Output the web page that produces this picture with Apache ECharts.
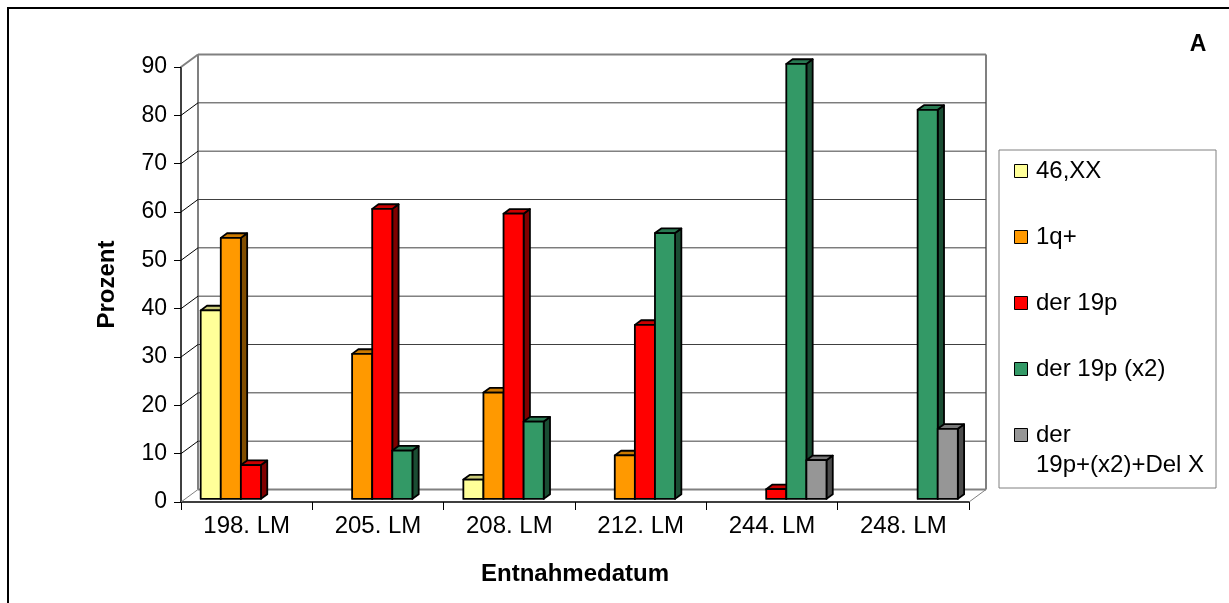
<!DOCTYPE html>
<html>
<head>
<meta charset="utf-8">
<script src="https://cdn.jsdelivr.net/npm/echarts@6/dist/echarts.min.js"></script>
<style>
  html, body { margin: 0; padding: 0; background: #fff; }
  #chart { width: 1229px; height: 603px; }
</style>
</head>
<body>
<div id="chart"></div>
<script>
// Sample dates (Lebermonat) on the category axis
const categories = ['198. LM', '205. LM', '208. LM', '212. LM', '244. LM', '248. LM'];

// Karyotype clones, share in percent per sample (null = not detected)
const seriesNames = ['46,XX', '1q+', 'der 19p', 'der 19p (x2)', 'der\n19p+(x2)+Del X'];
const s46XX     = [39, null, 4, null, null, null];
const s1qPlus   = [54, 30, 22, 9, null, null];
const sDer19p   = [7, 60, 59, 36, 2, null];
const sDer19pX2 = [null, 10, 16, 55, 90, 80.5];
const sDelX     = [null, null, null, null, 8, 14.5];
const seriesValues = [s46XX, s1qPlus, sDer19p, sDer19pX2, sDelX];

// Value axis ticks
const yTicks = [0, 10, 20, 30, 40, 50, 60, 70, 80, 90];

// Face / top / side colours per clone
const palette = [
  { face: '#FFFF99', top: '#CCCC7A', side: '#80804D' },
  { face: '#FF9900', top: '#CC7A00', side: '#804D00' },
  { face: '#FF0000', top: '#CC0000', side: '#800000' },
  { face: '#339966', top: '#297A52', side: '#1A4D33' },
  { face: '#969696', top: '#787878', side: '#4B4B4B' }
];

// Oblique projection of the depth axis
const DX = 17, DY = -12.5;       // full wall depth
const BAR_DEPTH_START = 0.25;    // bars stand a little behind the front plane
const BAR_DEPTH = 0.37;          // bar thickness as a share of the wall depth
const GROUP_SHARE = 0.765;       // share of a category taken by the 5-bar cluster
const FONT = 'Arial, "Liberation Sans", sans-serif';

const chart = echarts.init(document.getElementById('chart'), null, { renderer: 'canvas' });

function wallItem(params, api) {
  const v = api.value(1);
  const catW = api.size([1, 0])[0];
  const pL = api.coord([0, v]);
  const pR = api.coord([categories.length - 1, v]);
  const xL = pL[0] - catW / 2;
  const xR = pR[0] + catW / 2;
  const y = pL[1];
  const y0 = api.coord([0, 0])[1];
  const yMax = api.coord([0, yTicks[yTicks.length - 1]])[1];
  const edge = { stroke: '#808080', lineWidth: 2 };
  const isEdge = (v === 0 || v === yTicks[yTicks.length - 1]);
  const children = [];
  // left side wall: diagonal from the axis to the back wall
  children.push({
    type: 'line',
    shape: { x1: xL, y1: y, x2: xL + DX, y2: y + DY },
    style: v === yTicks[yTicks.length - 1] ? edge : { stroke: v === 0 ? '#808080' : '#000', lineWidth: 1 }
  });
  // back wall grid line
  children.push({
    type: 'line',
    shape: { x1: xL + DX, y1: y + DY, x2: xR + DX, y2: y + DY },
    style: isEdge ? edge : { stroke: '#404040', lineWidth: 1 }
  });
  if (v === 0) {
    // floor, right diagonal
    children.push({
      type: 'line',
      shape: { x1: xR, y1: y, x2: xR + DX, y2: y + DY },
      style: { stroke: '#808080', lineWidth: 1 }
    });
    // back wall vertical edges
    children.push({
      type: 'line',
      shape: { x1: xL + DX, y1: y0 + DY, x2: xL + DX, y2: yMax + DY },
      style: edge
    });
    children.push({
      type: 'line',
      shape: { x1: xR + DX, y1: y0 + DY, x2: xR + DX, y2: yMax + DY },
      style: edge
    });
  }
  return { type: 'group', children: children };
}

function barRenderer(seriesIndex) {
  return function (params, api) {
    const v = api.value(1);
    if (v == null || isNaN(v)) return null;
    const cat = api.value(0);
    const catW = api.size([1, 0])[0];
    const bw = catW * GROUP_SHARE / seriesValues.length;
    const pTop = api.coord([cat, v]);
    const pBase = api.coord([cat, 0]);
    const ox = BAR_DEPTH_START * DX, oy = BAR_DEPTH_START * DY;
    const dx = BAR_DEPTH * DX, dy = BAR_DEPTH * DY;
    const x0 = pTop[0] + ox - (seriesValues.length / 2) * bw + seriesIndex * bw;
    const x1 = x0 + bw;
    const yt = pTop[1] + oy;
    const yb = pBase[1] + oy;
    const c = palette[seriesIndex];
    const stroke = { stroke: '#000', lineWidth: 1.8, lineJoin: 'round' };
    return {
      type: 'group',
      children: [
        {
          type: 'polygon',
          shape: { points: [[x1, yt], [x1 + dx, yt + dy], [x1 + dx, yb + dy], [x1, yb]] },
          style: Object.assign({ fill: c.side }, stroke)
        },
        {
          type: 'polygon',
          shape: { points: [[x0, yt], [x1, yt], [x1 + dx, yt + dy], [x0 + dx, yt + dy]] },
          style: Object.assign({ fill: c.top }, stroke)
        },
        {
          type: 'rect',
          shape: { x: x0, y: yt, width: bw, height: yb - yt },
          style: Object.assign({ fill: c.face }, stroke)
        }
      ]
    };
  };
}

const barSeries = seriesValues.map(function (vals, i) {
  return {
    type: 'custom',
    name: seriesNames[i],
    coordinateSystem: 'cartesian2d',
    renderItem: barRenderer(i),
    clip: false,
    z: 3 + i,
    data: vals.map(function (v, j) { return [j, v]; })
  };
});

// Legend drawn as a framed box with square keys
const legendTop = 171, legendStep = 66;
const legendChildren = [{
  type: 'rect',
  shape: { x: 999, y: 150, width: 217, height: 338 },
  style: { fill: '#fff', stroke: '#808080', lineWidth: 1 }
}];
seriesNames.forEach(function (name, i) {
  const cy = legendTop + i * legendStep;
  legendChildren.push({
    type: 'rect',
    shape: { x: 1014.5, y: cy - 6.5, width: 13, height: 13 },
    style: { fill: palette[i].face, stroke: '#000', lineWidth: 1 }
  });
  legendChildren.push({
    type: 'text',
    x: 1036, y: cy - 15,
    style: {
      text: name, fill: '#000', font: '24px ' + FONT,
      lineHeight: 30, verticalAlign: 'top', align: 'left'
    }
  });
});

const option = {
  animation: false,
  backgroundColor: '#fff',
  grid: { left: 181, right: 260, top: 67, bottom: 101, containLabel: false },
  xAxis: {
    type: 'category',
    data: categories,
    boundaryGap: true,
    axisLine: { show: true, lineStyle: { color: '#000', width: 1.5 } },
    axisTick: { show: true, interval: 0, length: 8, lineStyle: { color: '#000' } },
    axisLabel: { interval: 0, margin: 12, color: '#000', fontSize: 24, fontFamily: FONT },
    splitLine: { show: false },
    name: 'Entnahmedatum',
    nameLocation: 'middle',
    nameGap: 60,
    nameTextStyle: { color: '#000', fontSize: 24, fontWeight: 'bold', fontFamily: FONT }
  },
  yAxis: {
    type: 'value',
    min: 0, max: 90, interval: 10,
    axisLine: { show: true, lineStyle: { color: '#000', width: 1.5 } },
    axisTick: { show: true, length: 7, lineStyle: { color: '#000' } },
    axisLabel: { margin: 14, color: '#000', fontSize: 23, fontFamily: FONT },
    splitLine: { show: false },
    name: 'Prozent',
    nameLocation: 'middle',
    nameRotate: 90,
    nameGap: 62,
    nameTextStyle: { color: '#000', fontSize: 24, fontWeight: 'bold', fontFamily: FONT }
  },
  series: [{
    type: 'custom',
    name: 'walls',
    coordinateSystem: 'cartesian2d',
    renderItem: wallItem,
    clip: false,
    silent: true,
    z: 1,
    data: yTicks.map(function (v) { return [0, v]; })
  }].concat(barSeries),
  graphic: [
    {
      type: 'rect',
      shape: { x: 8, y: 8, width: 1400, height: 800 },
      style: { fill: 'none', stroke: '#000', lineWidth: 2 },
      silent: true
    },
    {
      type: 'text',
      x: 1198, y: 45,
      style: { text: 'A', fill: '#000', font: 'bold 23px ' + FONT, align: 'center', verticalAlign: 'middle' }
    },
    { type: 'group', children: legendChildren }
  ]
};

chart.setOption(option);
</script>
</body>
</html>
